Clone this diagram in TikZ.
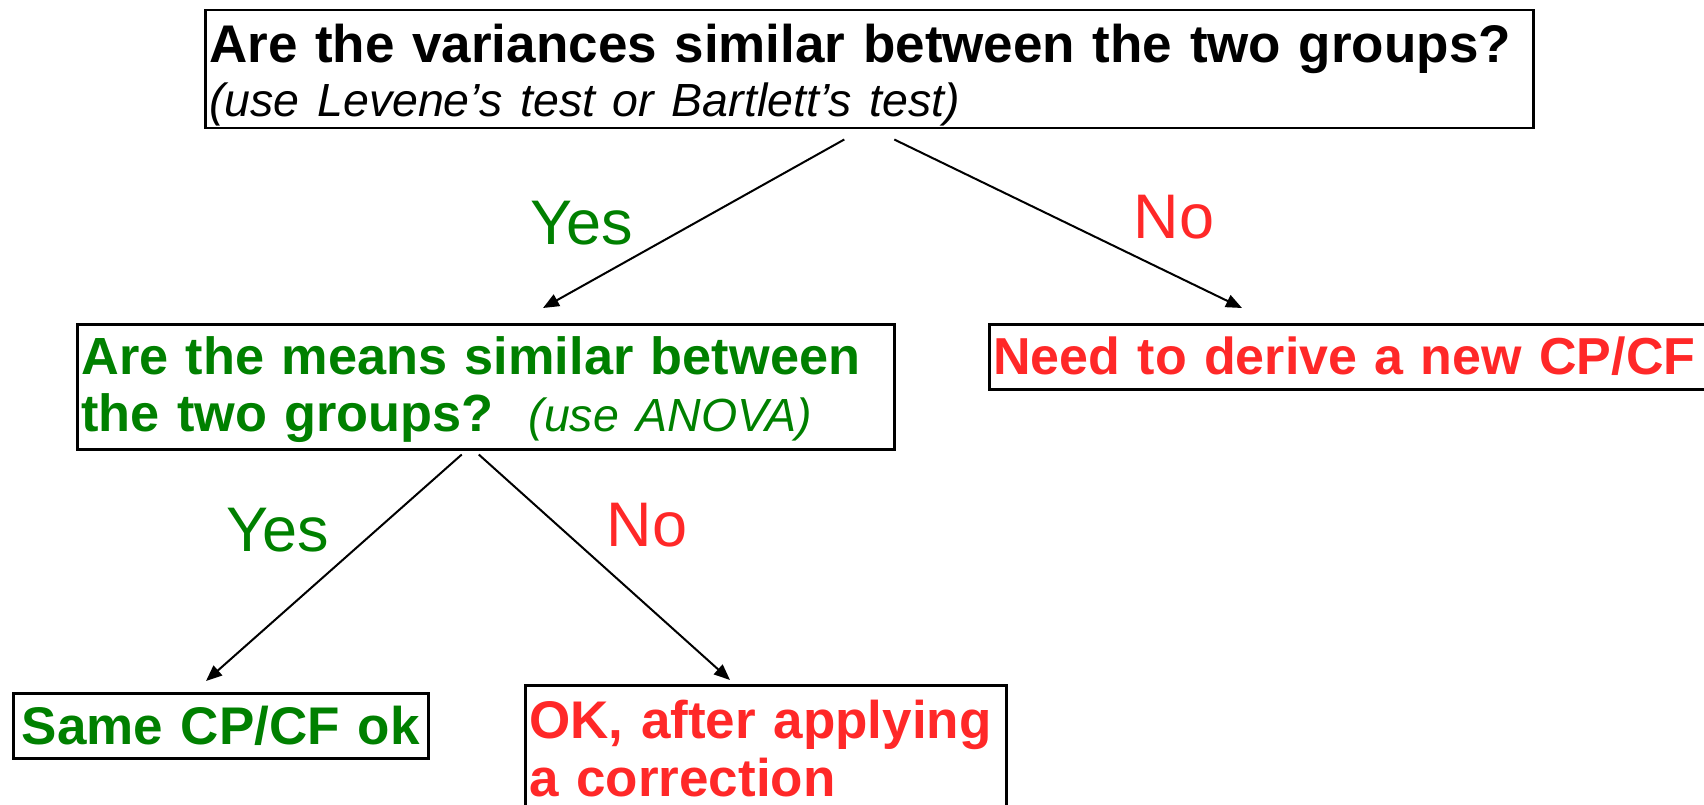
\documentclass[tikz,border=0pt]{standalone}
\usepackage{fontspec}
\setmainfont{Liberation Sans}
\usepackage{xcolor}
\usetikzlibrary{arrows.meta}
\definecolor{yesgreen}{RGB}{0,128,0}
\definecolor{nored}{RGB}{255,40,40}
\newcommand{\hint}[1]{{\fontsize{46.5}{57}\selectfont\mdseries\itshape #1}}
\newcommand{\up}[1]{\rule{0pt}{#1}}
\newcommand{\dn}[1]{\rule[-#1]{0pt}{#1}}

\begin{document}
\begin{tikzpicture}[x=1pt, y=-1pt,
      box/.style={draw, line width=2.5pt, anchor=north west, align=left,
                  inner xsep=4pt, inner ysep=0pt,
                  font=\fontsize{53}{57}\selectfont\bfseries},
      ans/.style={font=\fontsize{63}{70}\selectfont},
      ar/.style={-{Triangle[length=16pt, width=13pt]}, line width=2pt}]
    \useasboundingbox (0,0) rectangle (1704,805);
    \clip (0,0) rectangle (1704,805);
    % question boxes
    \node[box, text width=1320pt] (vars) at (204,9)
      {\up{52pt}Are the variances similar between the two groups?\\[-3pt]\hint{(use Levene's test or Bartlett's test)}\dn{12pt}};
    \node[box, text=yesgreen, text width=809pt, font=\fontsize{52.3}{57}\selectfont\bfseries] (means) at (76,323)
      {\up{50pt}Are the means similar between\\the two groups?\ \ \hint{(use ANOVA)}\dn{18pt}};
    % outcome boxes
    \node[box, text=nored, text width=760pt, font=\fontsize{52}{57}\selectfont\bfseries] (newcp) at (988,323)
      {\up{50pt}Need to derive a new CP/CF\dn{15pt}};
    \node[box, text=yesgreen, align=center, text width=407pt] (same) at (12,692)
      {\up{51pt}Same CP/CF ok\dn{14pt}};
    \node[box, text=nored, text width=473pt] (corr) at (524,684)
      {\up{53pt}OK, after applying\\[1pt]a correction\dn{30pt}};
    % answers
    \node[ans, text=yesgreen] (yes1) at (582,223) {Yes};
    \node[ans, text=nored] (no1) at (1174,217) {No};
    \node[ans, text=yesgreen] (yes2) at (278,530) {Yes};
    \node[ans, text=nored] (no2) at (647,525) {No};
    \draw[ar] ([xshift=-25pt,yshift=-10pt]vars.south) -- ([xshift=467pt,yshift=15pt]means.north west);
    \draw[ar] ([xshift=25pt,yshift=-10pt]vars.south) -- ([xshift=254pt,yshift=15pt]newcp.north west);
    \draw[ar] ([xshift=-24pt,yshift=-4pt]means.south) -- ([xshift=194pt,yshift=11pt]same.north west);
    \draw[ar] ([xshift=-7pt,yshift=-4pt]means.south) -- ([xshift=206pt,yshift=4pt]corr.north west);
  \end{tikzpicture}
\end{document}
